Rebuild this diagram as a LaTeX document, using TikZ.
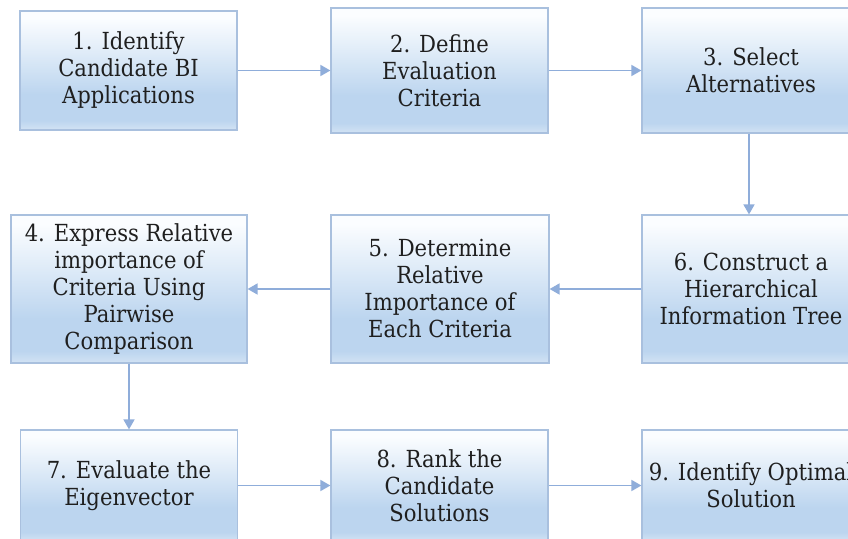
\documentclass[tikz,border=0pt]{standalone}
\usepackage{fontspec}
\setmainfont{DejaVu Serif Condensed}
\newfontfamily\stepfont{DejaVu Serif Condensed}
\usetikzlibrary{arrows.meta}

% box fill: white at the top, light blue below, a slightly paler strip at the bottom
\definecolor{gTop}{HTML}{FBFDFF}
\definecolor{gMid}{HTML}{E0ECF8}
\definecolor{gLow}{HTML}{BCD5EF}
\definecolor{gBot}{HTML}{D3E3F4}
\definecolor{boxline}{HTML}{A9C0DE}
\definecolor{flow}{HTML}{8FADDA}
\pgfdeclareverticalshading{stepshade}{100bp}{%
  color(0bp)=(gBot); color(25bp)=(gBot); color(29bp)=(gLow);
  color(40bp)=(gLow); color(58bp)=(gMid); color(72bp)=(gTop); color(100bp)=(gTop)}

\tikzset{
  stepbox/.style={draw=boxline, line width=1.2pt, shading=stepshade,
    align=center, inner sep=0pt, text=black!88,
    font=\stepfont\fontsize{23.5}{27}\selectfont},
  flowline/.style={draw=flow, line width=1.6pt,
    -{Triangle[length=10pt,width=11pt]}}
}

\begin{document}
\begin{tikzpicture}[x=1pt,y=-1pt]
\useasboundingbox (0,0) rectangle (848,538);
\clip (0,0) rectangle (848,538);
\fill[white] (0,0) rectangle (848,538);

% row 1
\node[stepbox, minimum width=217pt, minimum height=119pt] (s1) at (128.5,70.5)
  {1. Identify\\Candidate BI\\Applications};
\node[stepbox, minimum width=217pt, minimum height=125pt] (s2) at (439.5,70.5)
  {2. Define\\Evaluation\\Criteria};
\node[stepbox, minimum width=218pt, minimum height=125pt] (s3) at (751,70.5)
  {3. Select\\Alternatives};

% row 2
\node[stepbox, minimum width=236pt, minimum height=148pt] (s4) at (129,289)
  {4. Express Relative\\importance of\\Criteria Using\\Pairwise\\Comparison};
\node[stepbox, minimum width=218pt, minimum height=148pt] (s5) at (440,289)
  {5. Determine\\Relative\\Importance of\\Each Criteria};
\node[stepbox, minimum width=218pt, minimum height=148pt] (s6) at (751,289)
  {6. Construct a\\Hierarchical\\Information Tree};

% row 3
\node[stepbox, minimum width=217pt, minimum height=111pt] (s7) at (129,485.5)
  {7. Evaluate the\\Eigenvector};
\node[stepbox, minimum width=217pt, minimum height=111pt] (s8) at (439.5,485.5)
  {8. Rank the\\Candidate\\Solutions};
\node[stepbox, minimum width=218pt, minimum height=111pt] (s9) at (751,485.5)
  {9. Identify Optimal\\Solution};

% connectors
\draw[flowline] (s1.east) -- (s2.west);
\draw[flowline] (s2.east) -- (s3.west);
\draw[flowline] (s3.south -| 749,0) -- (s6.north -| 749,0);
\draw[flowline] (s6.west) -- (s5.west -| s5.east);
\draw[flowline] (s5.west) -- (s4.east);
\draw[flowline] (s4.south) -- (s7.north);
\draw[flowline] (s7.east) -- (s8.west);
\draw[flowline] (s8.east) -- (s9.west);
\end{tikzpicture}
\end{document}
